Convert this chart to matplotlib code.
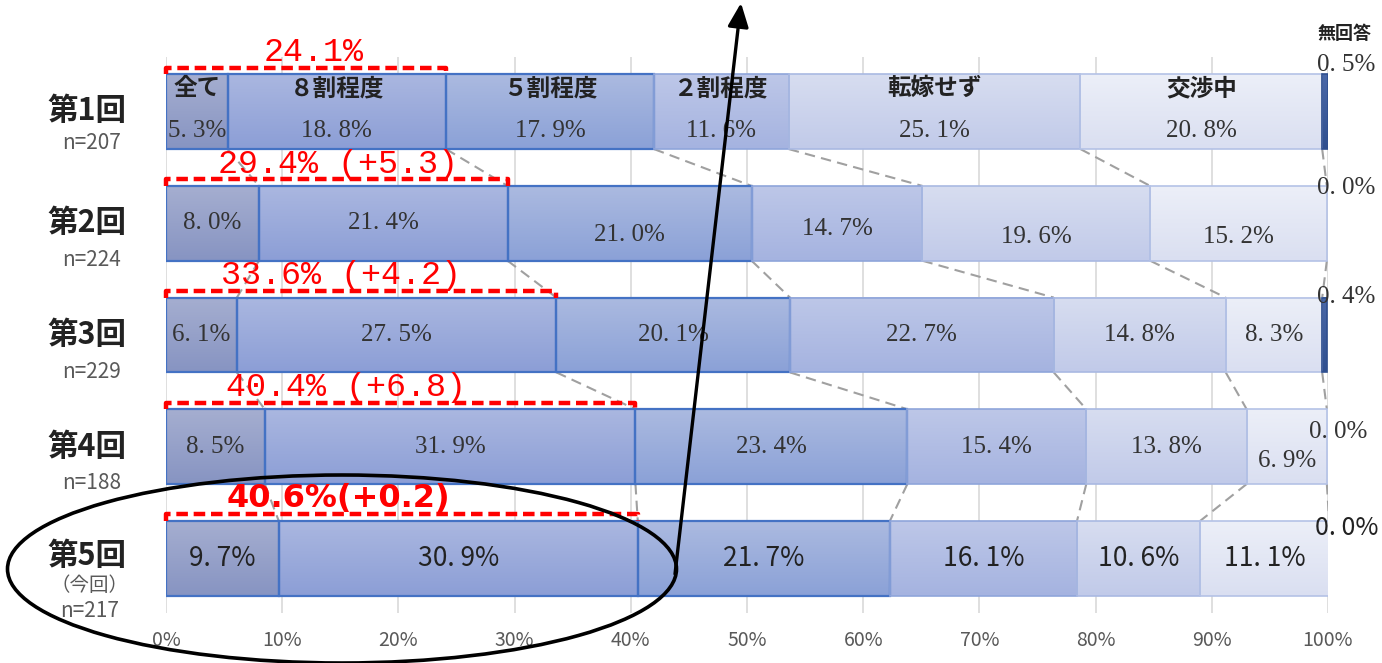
import matplotlib
matplotlib.use('Agg')
import matplotlib.pyplot as plt
import numpy as np
from matplotlib.colors import to_rgb
from matplotlib.patches import Ellipse, FancyArrowPatch

plt.rcParams['font.family'] = ['Noto Sans CJK JP', 'DejaVu Sans']

#-------------------------------------------------------------------------------
# data (percent of respondents)
rounds = ['第1回', '第2回', '第3回', '第4回', '第5回']
sample_n = [207, 224, 229, 188, 217]
categories = ['全て', '８割程度', '５割程度', '２割程度', '転嫁せず', '交渉中', '無回答']

share_all = [5.3, 8.0, 6.1, 8.5, 9.7]
share_80 = [18.8, 21.4, 27.5, 31.9, 30.9]
share_50 = [17.9, 21.0, 20.1, 23.4, 21.7]
share_20 = [11.6, 14.7, 22.7, 15.4, 16.1]
share_none = [25.1, 19.6, 14.8, 13.8, 10.6]
share_nego = [20.8, 15.2, 8.3, 6.9, 11.1]
share_na = [0.5, 0.0, 0.4, 0.0, 0.0]

#-------------------------------------------------------------------------------
# style
GRAD = [  # (top, bottom) of each segment
    ('#A5AED0', '#8794C2'),
    ('#AAB7E0', '#8C9ED6'),
    ('#ABBAE0', '#8BA1D7'),
    ('#BDC7E8', '#A5B3E0'),
    ('#D7DDF0', '#C1CAE9'),
    ('#ECEFF8', '#DADFF1'),
    ('#4A68A8', '#2F4F8F'),
]
EDGE = ['#4472C4', '#4472C4', '#4472C4', '#8FA5DA', '#A9B9E2', '#B4C2E6', '#2F4F8F']
BAR_H = 0.67
RED = '#FF0000'

# small manual nudges of data labels, (row, segment): dy
LABEL_DY = {(1, 2): 0.10, (1, 3): 0.05, (1, 4): 0.12, (1, 5): 0.12, (3, 5): 0.13}
NA_DY = [-0.42, -0.32, -0.34, -0.13, -0.27]
NA_X = [101.6, 101.6, 101.6, 100.9, 101.6]
RED_X = [12.7, 14.8, 15.1, 15.5, 14.8]


def fmt(v):
    return f'{v:.1f}%'.replace('.', '. ')


fig = plt.figure(figsize=(13.82, 6.63), dpi=100)
ax = fig.add_axes([166 / 1382, 1 - 613 / 663, 1162 / 1382, 556 / 663])

series = [share_all, share_80, share_50, share_20, share_none, share_nego, share_na]
table = np.array(series).T  # rows x segments
ypos = np.arange(len(rounds))
lefts = np.zeros(len(rounds))

for k, vals in enumerate(series):
    bars = ax.barh(ypos, vals, left=lefts, height=BAR_H, color='none',
                   edgecolor=EDGE[k], linewidth=1.6 if k < 3 else 1.2, zorder=3)
    top, bot = to_rgb(GRAD[k][0]), to_rgb(GRAD[k][1])
    t = np.linspace(0, 1, 64)[:, None, None]
    grad = (1 - t) * np.array(top)[None, None, :] + t * np.array(bot)[None, None, :]
    for p in bars:
        if p.get_width() <= 0:
            p.set_visible(False)
            continue
        x0, y0 = p.get_xy()
        ax.imshow(grad, extent=(x0, x0 + p.get_width(), y0, y0 + p.get_height()),
                  origin='lower', aspect='auto', interpolation='bilinear', zorder=2)
    lefts = lefts + np.array(vals)

cum = np.cumsum(table, axis=1)

# grey dashed connectors between consecutive rounds
for i in range(len(rounds) - 1):
    for k in range(len(categories) - 1):
        ax.plot([cum[i, k], cum[i + 1, k]], [i + BAR_H / 2, i + 1 - BAR_H / 2],
                color='#A0A0A0', lw=1.5, ls=(0, (5, 3)), zorder=1)

# data labels
last = len(rounds) - 1
for i in range(len(rounds)):
    starts = cum[i] - table[i]
    for k in range(len(categories) - 1):
        xc = starts[k] + table[i, k] / 2
        if i == 0:
            ax.text(xc, i - 0.21, categories[k], ha='center', va='center',
                    fontsize=17, weight='bold', color='#222222', zorder=6)
            ax.text(xc, i + 0.17, fmt(table[i, k]), ha='center', va='center',
                    fontsize=18, family='Liberation Serif', color='#333333', zorder=6)
        elif i == last:
            ax.text(xc, i, fmt(table[i, k]), ha='center', va='center',
                    fontsize=19, color='#222222', zorder=6)
        else:
            dy = LABEL_DY.get((i, k), 0.0)
            ax.text(xc, i + dy, fmt(table[i, k]), ha='center', va='center',
                    fontsize=18, family='Liberation Serif', color='#333333', zorder=6)
    # 無回答 labels, outside on the right
    if i == last:
        ax.text(NA_X[i], i + NA_DY[i], fmt(table[i, 6]), ha='center', va='center',
                fontsize=18, color='#222222', zorder=6, clip_on=False)
    else:
        ax.text(NA_X[i], i + NA_DY[i], fmt(table[i, 6]), ha='center', va='center',
                fontsize=18, family='Liberation Serif', color='#333333', zorder=6,
                clip_on=False)

ax.text(101.4, -0.70, categories[6], ha='center', va='center', fontsize=13,
        weight='bold', color='#222222', clip_on=False)

# red brackets over 全て + ８割程度
top_two = cum[:, 1]
for i in range(len(rounds)):
    ytop = i - BAR_H / 2
    yl = ytop - 0.06
    ax.plot([0, 0, top_two[i], top_two[i]], [ytop, yl, yl, ytop], color=RED,
            lw=3.2, ls=(0, (2.6, 1.3)), zorder=5, clip_on=False,
            solid_capstyle='butt', dash_capstyle='butt')
    if i == 0:
        label = f'{top_two[i]:.1f}%'
    else:
        diff = top_two[i] - top_two[i - 1]
        label = f'{top_two[i]:.1f}% ({diff:+.1f})'
    if i == last:
        ax.text(RED_X[i], i - 0.54, label.replace(' ', ''), ha='center', va='center',
                fontsize=23, weight='bold', color=RED, family='DejaVu Sans', zorder=6)
    else:
        ax.text(RED_X[i], i - 0.53, label, ha='center', va='center',
                fontsize=24, color=RED, family='Liberation Mono', zorder=6)

# round labels on the left
ytr = ax.get_yaxis_transform()
for i, (r, n) in enumerate(zip(rounds, sample_n)):
    if i == last:
        ax.text(-0.068, i - 0.02, r, transform=ytr, ha='center', va='center',
                fontsize=22, weight='bold', color='#222222')
        ax.text(-0.066, i + 0.24, '（今回）', transform=ytr, ha='center', va='center',
                fontsize=14, color='#595959')
        ax.text(-0.066, i + 0.47, f'n={n}', transform=ytr, ha='center', va='center',
                fontsize=15, color='#595959')
    else:
        dy = -0.01 if i == 0 else 0.0
        ax.text(-0.068, i + dy, r, transform=ytr, ha='center', va='center',
                fontsize=22, weight='bold', color='#222222')
        ax.text(-0.064, i + (0.28 if i == 0 else 0.33), f'n={n}', transform=ytr,
                ha='center', va='center', fontsize=15, color='#595959')

ax.set_xlim(0, 100)
ax.set_ylim(len(rounds) - 0.51, -0.49)
ax.set_xticks(np.arange(0, 101, 10))
ax.set_xticklabels([f'{t}%' for t in range(0, 101, 10)], fontsize=14, color='#595959')
ax.tick_params(axis='x', length=0, pad=12)
ax.set_yticks([])
ax.grid(axis='x', color='#D9D9D9', lw=1.2, zorder=0)
ax.set_axisbelow(True)
for s in ax.spines.values():
    s.set_visible(False)

# hand-drawn highlight: ellipse and arrow
ell = Ellipse((342 / 1382, 1 - 569 / 663), 669 / 1382, 188 / 663,
              transform=fig.transFigure, fill=False, ec='black', lw=2.6)
fig.add_artist(ell)
arr = FancyArrowPatch((675 / 1382, 1 - 574 / 663), (741 / 1382, 1 - 3 / 663),
                      transform=fig.transFigure, arrowstyle='-|>,head_length=0.8,head_width=0.35',
                      mutation_scale=18, lw=2.4, color='black', shrinkA=0, shrinkB=0)
fig.add_artist(arr)

fig.savefig('out.png', dpi=100)
